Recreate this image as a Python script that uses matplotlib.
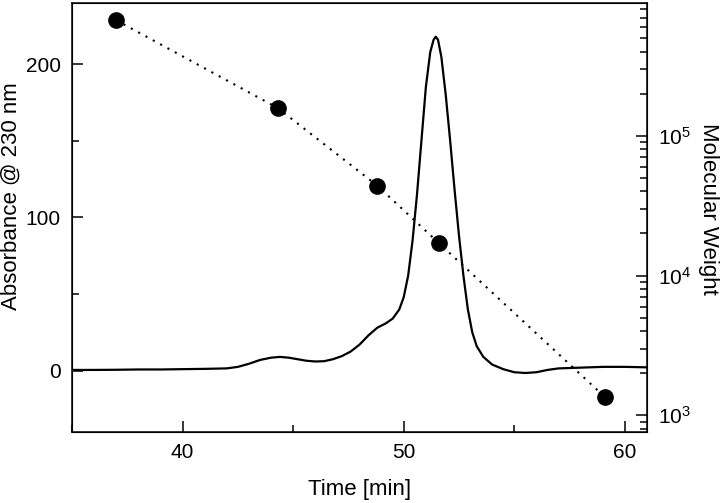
import matplotlib
matplotlib.use("Agg")
import matplotlib.pyplot as plt
from matplotlib.ticker import MultipleLocator, LogLocator, NullFormatter

plt.rcParams['font.family'] = ['Liberation Sans', 'DejaVu Sans']
plt.rcParams['mathtext.default'] = 'regular'

# chromatogram (absorbance at 230 nm)
tiempo = [35.0, 36.0, 37.0, 38.0, 39.0, 40.0, 41.0, 42.0, 42.5, 43.0, 43.5, 44.0,
          44.4, 44.8, 45.2, 45.6, 46.0, 46.4, 46.8, 47.2, 47.6, 48.0, 48.4, 48.8,
          49.2, 49.5, 49.8, 50.0, 50.2, 50.4, 50.6, 50.8, 51.0, 51.2, 51.35, 51.45,
          51.55, 51.7, 51.9, 52.1, 52.3, 52.5, 52.7, 52.9, 53.1, 53.3, 53.6, 54.0,
          54.5, 55.0, 55.5, 56.0, 56.5, 57.0, 58.0, 59.0, 60.0, 61.0]
absorbancia = [0.5, 0.5, 0.6, 0.8, 0.8, 1.0, 1.2, 1.5, 2.5, 4.5, 7.0, 8.5,
               9.0, 8.5, 7.5, 6.5, 6.0, 6.2, 7.5, 9.5, 12.5, 17.0, 23.0, 28.0,
               31.0, 34.0, 40.0, 48.0, 62.0, 85.0, 115.0, 150.0, 185.0, 208.0, 216.0, 218.0,
               216.0, 205.0, 180.0, 150.0, 118.0, 88.0, 62.0, 40.0, 25.0, 16.0, 9.0, 4.0,
               1.0, -1.0, -1.5, -1.0, 0.5, 1.5, 2.0, 2.5, 2.5, 2.2]

# molecular weight standards
tiempo_padrao = [37.0, 44.3, 48.8, 51.6, 59.1]
peso_molecular = [670000, 158000, 44000, 17000, 1350]

fig = plt.figure(figsize=(7.2, 5.03), dpi=100)
ax = fig.add_axes([0.1, 0.1412, 0.7986, 0.8528])

ax.plot(tiempo, absorbancia, color='black', linewidth=1.6)
ax.set_xlim(35, 61)
ax.set_ylim(-40, 240)
ax.xaxis.set_major_locator(MultipleLocator(10))
ax.xaxis.set_minor_locator(MultipleLocator(5))
ax.yaxis.set_major_locator(MultipleLocator(100))
ax.yaxis.set_minor_locator(MultipleLocator(50))
ax.tick_params(which='both', direction='in', top=False, right=False, labelsize=15, width=1.1)
ax.tick_params(which='major', length=8, pad=8)
ax.tick_params(which='minor', length=5)
ax.set_xlabel("Time [min]", fontsize=16, labelpad=12)
ax.set_ylabel("Absorbance @ 230 nm", fontsize=16, va='center')
ax.yaxis.set_label_coords(-0.105, 0.55)
for s in ax.spines.values():
    s.set_linewidth(1.1)

ax2 = ax.twinx()
ax2.plot(tiempo_padrao, peso_molecular, linestyle=(0, (1, 3)), linewidth=1.5,
         color='black', marker='o', markersize=11)
ax2.set_yscale('log')
ax2.set_ylim(760, 8.9e5)
ax2.yaxis.set_major_locator(LogLocator(base=10, numticks=10))
ax2.yaxis.set_minor_locator(LogLocator(base=10, subs=range(2, 10), numticks=10))
ax2.yaxis.set_minor_formatter(NullFormatter())
ax2.tick_params(which='both', direction='in', labelsize=15, width=1.1)
ax2.tick_params(which='major', length=8, pad=8)
ax2.tick_params(which='minor', length=5)
ax2.set_ylabel("Molecular Weight", fontsize=16, rotation=270, va='center')
ax2.yaxis.set_label_coords(1.107, 0.52)

fig.savefig("out.png", dpi=100)
